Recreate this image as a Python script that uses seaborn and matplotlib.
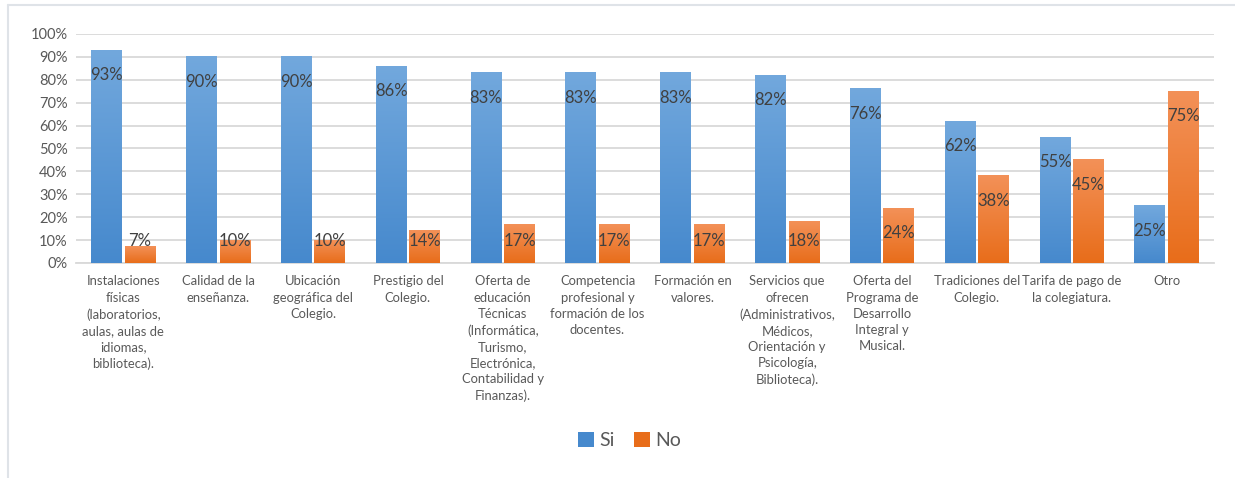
import numpy as np
import pandas as pd
import matplotlib
matplotlib.use("Agg")
import matplotlib.pyplot as plt
import seaborn as sns
from matplotlib.colors import LinearSegmentedColormap
from matplotlib.patches import Patch

categories = [
    "Instalaciones\nfísicas\n(laboratorios,\naulas, aulas de\nidiomas,\nbiblioteca).",
    "Calidad de la\nenseñanza.",
    "Ubicación\ngeográfica del\nColegio.",
    "Prestigio del\nColegio.",
    "Oferta de\neducación\nTécnicas\n(Informática,\nTurismo,\nElectrónica,\nContabilidad y\nFinanzas).",
    "Competencia\nprofesional y\nformación de los\ndocentes.",
    "Formación en\nvalores.",
    "Servicios que\nofrecen\n(Administrativos,\nMédicos,\nOrientación y\nPsicología,\nBiblioteca).",
    "Oferta del\nPrograma de\nDesarrollo\nIntegral y\nMusical.",
    "Tradiciones del\nColegio.",
    "Tarifa de pago de\nla colegiatura.",
    "Otro",
]
si_values = [93, 90, 90, 86, 83, 83, 83, 82, 76, 62, 55, 25]
no_values = [7, 10, 10, 14, 17, 17, 17, 18, 24, 38, 45, 75]
series = ["Si", "No"]
yticks = [0, 10, 20, 30, 40, 50, 60, 70, 80, 90, 100]

text_color = "#595959"
label_color = "#404040"
grid_color = "#d9d9d9"
blue_top, blue_bottom = "#72a8dd", "#4689cd"
orange_top, orange_bottom = "#f39158", "#e86d1a"

df = pd.DataFrame({
    "categoria": categories * 2,
    "serie": ["Si"] * len(categories) + ["No"] * len(categories),
    "valor": si_values + no_values,
})

sns.set_theme(style="white")
plt.rcParams["font.family"] = ["Lato", "DejaVu Sans"]

fig = plt.figure(figsize=(12.35, 4.78), dpi=100)
ax = fig.add_axes([0.0615, 0.4498, 0.9215, 0.4791])

sns.barplot(data=df, x="categoria", y="valor", hue="serie",
            hue_order=series, order=categories,
            palette=[blue_bottom, orange_bottom],
            width=0.705, gap=0.08, legend=False, ax=ax, zorder=3)

ax.set_ylim(0, 100)
ax.set_xlim(-0.5, len(categories) - 0.5)
ax.set_yticks(yticks)
ax.set_yticklabels([f"{v}%" for v in yticks])
ax.yaxis.grid(True, color=grid_color, linewidth=1.3, zorder=0)
ax.set_axisbelow(True)
for side in ["top", "right", "left"]:
    ax.spines[side].set_visible(False)
ax.spines["bottom"].set_color(grid_color)
ax.spines["bottom"].set_linewidth(1.3)
ax.tick_params(axis="both", length=0, colors=text_color)
ax.tick_params(axis="y", labelsize=10.5, pad=6)
ax.tick_params(axis="x", labelsize=9.4, pad=9)
for t in ax.get_xticklabels():
    t.set_linespacing(1.42)
    t.set_verticalalignment("top")
ax.set_xlabel("")
ax.set_ylabel("")

# vertical gradient fill on each bar
grad = np.linspace(0, 1, 256).reshape(-1, 1)
cmaps = {
    "Si": LinearSegmentedColormap.from_list("si", [blue_bottom, blue_top]),
    "No": LinearSegmentedColormap.from_list("no", [orange_bottom, orange_top]),
}
bars = [p for p in ax.patches if p.get_height() > 0]
bars.sort(key=lambda p: p.get_x())
for i, p in enumerate(bars):
    name = "Si" if i % 2 == 0 else "No"
    x0, w, h = p.get_x(), p.get_width(), p.get_height()
    p.set_facecolor("none")
    p.set_edgecolor("none")
    ax.imshow(grad, cmap=cmaps[name], aspect="auto", origin="lower",
              extent=[x0, x0 + w, 0, h], zorder=3, interpolation="bilinear")
    ax.text(x0 + w / 2, max(h - 11, 9.6), f"{h:.0f}%", ha="center",
            va="center", fontsize=12, color=label_color, zorder=5)

ax.set_xlim(-0.5, len(categories) - 0.5)
ax.set_ylim(0, 100)

handles = [Patch(facecolor=blue_bottom, edgecolor="none"),
           Patch(facecolor=orange_bottom, edgecolor="none")]
fig.legend(handles, series, loc="center", bbox_to_anchor=(0.51, 0.078),
           ncol=2, frameon=False, fontsize=14, labelcolor=text_color,
           handlelength=0.8, handleheight=0.8, handletextpad=0.3,
           columnspacing=1.0)

# outer chart border
fig.add_artist(plt.Line2D([8 / 1235, 8 / 1235], [0, 1 - 5 / 478],
                          transform=fig.transFigure, color="#dfe3e8", linewidth=1.5))
fig.add_artist(plt.Line2D([8 / 1235, 1], [1 - 5 / 478, 1 - 5 / 478],
                          transform=fig.transFigure, color="#dfe3e8", linewidth=1.5))

fig.savefig("out.png", dpi=100)
